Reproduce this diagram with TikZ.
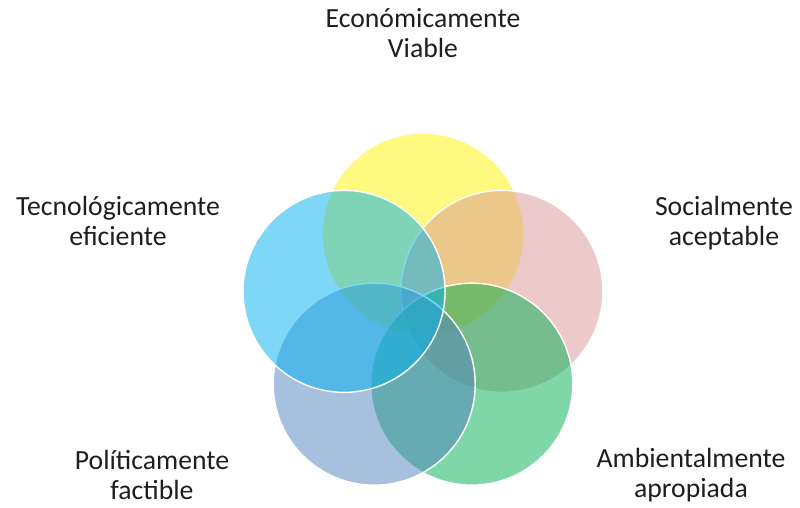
\documentclass[tikz,border=0pt]{standalone}
\usepackage{fontspec}
\setmainfont{Carlito}
\usetikzlibrary{calc}
\definecolor{cyellow}{HTML}{FFF400}
\definecolor{cpink}{HTML}{D99594}
\definecolor{cgreen}{HTML}{00B050}
\definecolor{cbluegray}{HTML}{4F81BD}
\definecolor{clightblue}{HTML}{00B0F0}
\definecolor{ctext}{HTML}{1E1E1E}
\begin{document}
\begin{tikzpicture}[x=1pt,y=1pt,
  ring/.style={circle, minimum size=202pt, inner sep=0pt, fill opacity=0.5, draw=white, line width=1.4pt},
  lbl/.style={align=center, inner sep=0pt, anchor=base, text=ctext, font=\fontsize{27.7}{30}\selectfont}]
\useasboundingbox (0,0) rectangle (800,-508);
\coordinate (ctr) at (423,-317);
\node[ring, fill=cyellow] (eco) at ($(ctr)+(90:83)$) {};
\node[ring, fill=cpink] (soc) at ($(ctr)+(18:83)$) {};
\node[ring, fill=cgreen] (amb) at ($(ctr)+(-54:83)$) {};
\node[ring, fill=cbluegray] (pol) at ($(ctr)+(-126:83)$) {};
\node[ring, fill=clightblue] (tec) at ($(ctr)+(162:83)$) {};
\node[lbl] (teco) at (423,-58) {Económicamente\\Viable};
\node[lbl] (ttec) at (118,-245) {Tecnológicamente\\eficiente};
\node[lbl] (tsoc) at (724,-245) {Socialmente\\aceptable};
\node[lbl] (tpol) at (152,-499) {Políticamente\\factible};
\node[lbl] (tamb) at (691,-497) {Ambientalmente\\apropiada};
\end{tikzpicture}
\end{document}
